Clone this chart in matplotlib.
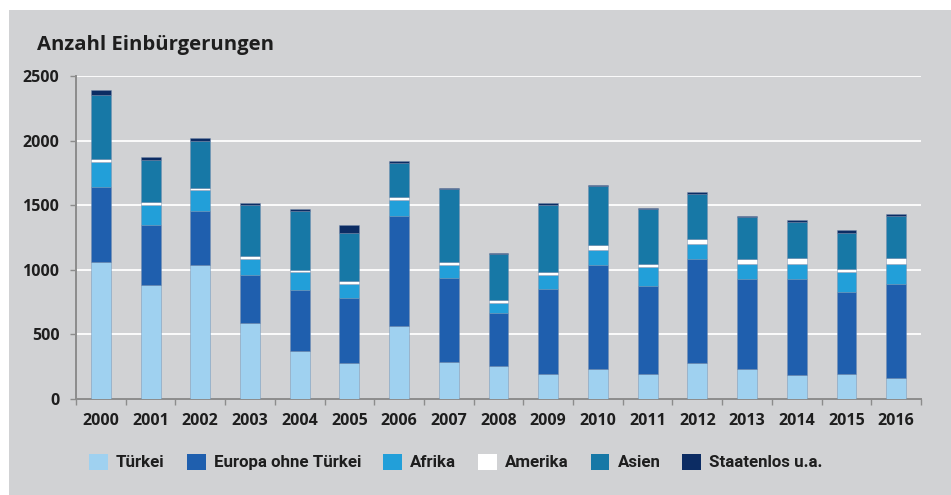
import matplotlib.pyplot as plt
from matplotlib.patches import Rectangle
import numpy as np

# Einbürgerungen nach Herkunft, 2000-2016
jahre = ['2000', '2001', '2002', '2003', '2004', '2005', '2006', '2007', '2008',
         '2009', '2010', '2011', '2012', '2013', '2014', '2015', '2016']
tuerkei = [1060, 879, 1034, 589, 375, 279, 566, 290, 256, 194, 230, 194, 279, 233, 186, 194, 160]
europa = [581, 468, 419, 370, 468, 502, 853, 646, 408, 659, 804, 682, 802, 692, 739, 633, 729]
afrika = [194, 155, 165, 122, 142, 108, 119, 98, 80, 109, 119, 145, 118, 119, 119, 155, 155]
amerika = [26, 23, 16, 28, 15, 26, 26, 26, 26, 23, 36, 23, 37, 37, 47, 26, 49]
asien = [491, 326, 364, 393, 455, 372, 264, 566, 352, 517, 458, 424, 351, 328, 279, 279, 326]
staatenlos = [39, 23, 21, 13, 13, 60, 13, 10, 10, 13, 13, 11, 13, 10, 13, 24, 11]

serien = [('Türkei', tuerkei, '#9fd1f0'),
          ('Europa ohne Türkei', europa, '#1f5fae'),
          ('Afrika', afrika, '#229fd9'),
          ('Amerika', amerika, '#ffffff'),
          ('Asien', asien, '#1778a6'),
          ('Staatenlos u.a.', staatenlos, '#0c2c63')]

grau = '#d1d2d4'
fig = plt.figure(figsize=(9.51, 4.95), dpi=100, facecolor='white')
# grauer Hintergrund mit weissem Rand links/oben
fig.patches.append(Rectangle((9 / 951, 0), 1, 1 - 10 / 495, transform=fig.transFigure,
                             facecolor=grau, edgecolor='none', zorder=-10))

ax = fig.add_axes([76 / 951, 1 - 399 / 495, 845 / 951, 323 / 495])
ax.set_facecolor(grau)

x = np.arange(len(jahre))
unten = np.zeros(len(jahre))
for name, werte, farbe in serien:
    ax.bar(x, werte, width=0.4, bottom=unten, color=farbe, label=name,
           edgecolor=(0.45, 0.55, 0.68, 0.6), linewidth=0.5, zorder=3)
    unten += np.array(werte)

ax.set_xlim(-0.5, len(jahre) - 0.5)
ax.set_ylim(0, 2500)
ax.set_yticks([0, 500, 1000, 1500, 2000, 2500])
ax.yaxis.grid(True, color='white', linewidth=1.3, zorder=0)
ax.set_axisbelow(True)

for s in ['top', 'right']:
    ax.spines[s].set_visible(False)
for s in ['left', 'bottom']:
    ax.spines[s].set_color('#8c8c8c')
    ax.spines[s].set_linewidth(1.4)

# Jahreszahlen mittig, Striche zwischen den Balken
ax.set_xticks(np.arange(-0.5, len(jahre)), minor=False)
ax.set_xticklabels([])
ax.set_xticks(x, minor=True)
ax.set_xticklabels(jahre, minor=True)
ax.tick_params(axis='x', which='major', length=4, color='#8c8c8c', width=1)
ax.tick_params(axis='x', which='minor', length=0, pad=10)
ax.tick_params(axis='y', length=4, color='#8c8c8c', width=1, pad=8)
for lab in ax.get_xticklabels(minor=True) + ax.get_yticklabels():
    lab.set_fontfamily('Open Sans')
    lab.set_fontweight('bold')
    lab.set_fontsize(11.5)
    lab.set_color('#1e1e1e')

fig.text(37 / 951, 1 - 50 / 495, 'Anzahl Einbürgerungen', fontfamily='Open Sans',
         fontweight='bold', fontsize=14.6, color='#1e1e1e', va='baseline')

h, l = ax.get_legend_handles_labels()
leg = fig.legend(h, l, ncol=6, loc='center left', bbox_to_anchor=(89 / 951, 1 - 462 / 495),
                 frameon=False, handlelength=1.12, handleheight=1.12, handletextpad=0.47,
                 columnspacing=1.3, borderaxespad=0, borderpad=0,
                 prop={'family': 'Roboto', 'weight': 'bold', 'size': 12.2})
for p in leg.legend_handles:
    p.set_edgecolor('none')
for t in leg.get_texts():
    t.set_color('#1e1e1e')

fig.savefig('out.png', dpi=100, facecolor='white')
